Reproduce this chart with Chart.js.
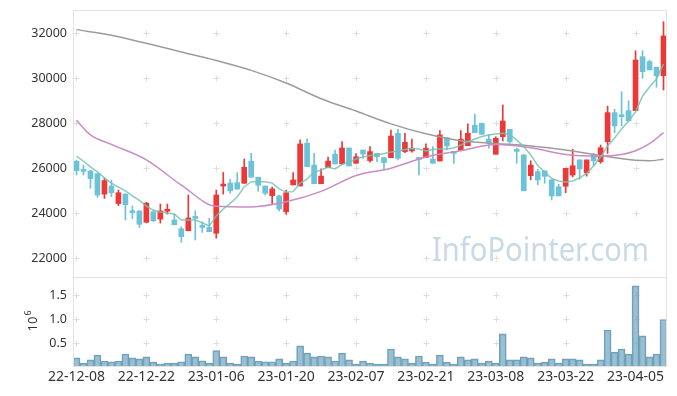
<!DOCTYPE html>
<html>
<head>
<meta charset="utf-8">
<script src="https://cdn.jsdelivr.net/npm/chart.js@4.4.0/dist/chart.umd.min.js"></script>
<style>
  html, body { margin: 0; padding: 0; background: #fff; }
</style>
</head>
<body>
<canvas id="stockChart" width="677" height="396"></canvas>
<script>
// trading days shown on the chart
const dates = [
  '22-12-08','22-12-09','22-12-12','22-12-13','22-12-14','22-12-15','22-12-16','22-12-19','22-12-20','22-12-21',
  '22-12-22','22-12-23','22-12-26','22-12-27','22-12-28','22-12-29','23-01-02','23-01-03','23-01-04','23-01-05',
  '23-01-06','23-01-09','23-01-10','23-01-11','23-01-12','23-01-13','23-01-16','23-01-17','23-01-18','23-01-19',
  '23-01-20','23-01-25','23-01-26','23-01-27','23-01-30','23-01-31','23-02-01','23-02-02','23-02-03','23-02-06',
  '23-02-07','23-02-08','23-02-09','23-02-10','23-02-13','23-02-14','23-02-15','23-02-16','23-02-17','23-02-20',
  '23-02-21','23-02-22','23-02-23','23-02-24','23-02-27','23-02-28','23-03-02','23-03-03','23-03-06','23-03-07',
  '23-03-08','23-03-09','23-03-10','23-03-13','23-03-14','23-03-15','23-03-16','23-03-17','23-03-20','23-03-21',
  '23-03-22','23-03-23','23-03-24','23-03-27','23-03-28','23-03-29','23-03-30','23-03-31','23-04-03','23-04-04',
  '23-04-05','23-04-06','23-04-07','23-04-10','23-04-11'
];

const opens = [
  26300,25900,25870,25750,24840,25200,24420,24840,24100,24090,
  23590,24060,23730,24080,23690,23300,23210,23790,23420,23360,
  23100,25200,25330,25350,25320,26300,25590,25200,24770,24760,
  24060,25250,25200,27100,26130,25300,26010,26620,26180,26890,
  26210,26800,26330,26650,26460,26460,27540,26730,26760,26470,
  26460,26400,26310,27350,26730,26770,26990,27900,27990,27280,
  26610,27390,27720,26800,26580,25660,25840,25870,25470,25170,
  25190,25690,26360,25780,26580,26280,27170,28460,28330,28550,
  28550,30950,30730,30480,30100
];
const highs = [
  26350,26130,25900,25770,25550,25460,25020,24860,24310,24100,
  24480,24100,24400,24400,23950,23390,24800,24100,23610,23770,
  25020,25800,25500,25800,26400,26650,25590,25200,25150,24800,
  25020,25800,27250,27300,26650,25960,26480,26800,27170,26890,
  26640,26800,26950,26650,26460,27690,27720,27540,27280,26470,
  27070,26950,27660,27350,26730,27660,27960,28390,27990,27470,
  27390,28800,27720,26880,26600,26320,25940,25870,25470,25280,
  25990,26830,26360,26360,26650,27020,28750,28610,29390,28990,
  31210,31210,30800,30480,32500
];
const lows = [
  25690,25690,25100,24700,24650,24730,24330,23690,23750,23360,
  23560,23620,23550,23950,23480,22700,23210,22800,23140,23170,
  22880,24840,24880,25060,25320,25590,24970,24800,24400,24090,
  23950,25250,25200,26060,25300,25300,26010,26180,26180,26090,
  26210,26430,26260,26280,25910,26460,26360,26680,26700,25690,
  26460,26210,26310,26800,26200,26770,26990,27570,27500,26880,
  26610,27200,27100,26210,24990,25470,25250,25320,24580,24760,
  24900,25600,25500,25640,26090,26210,26650,27570,27870,28100,
  28550,29990,30360,29590,29470
];
const closes = [
  25880,25850,25530,24800,25440,24900,24900,24370,24010,23500,
  24440,23660,24090,24170,23480,22950,23780,23760,23360,23170,
  24800,25250,24990,25060,26030,25590,25230,24880,25070,24180,
  24900,25470,27070,26060,25300,25640,26310,26180,26890,26090,
  26500,26620,26730,26500,26240,27420,26430,27140,26880,26380,
  26880,26210,27470,26980,26650,27280,27540,27570,27500,27100,
  27320,28090,27170,26740,24990,26130,25470,25630,24760,24760,
  25990,26100,25960,26360,26320,26900,28460,27870,28280,28100,
  30800,30280,30360,30100,31870
];
const volumes = [
  190000,80000,150000,250000,125000,110000,125000,270000,190000,170000,
  210000,100000,60000,80000,80000,110000,270000,210000,130000,80000,
  340000,210000,80000,60000,230000,210000,125000,110000,110000,170000,
  80000,125000,440000,290000,210000,230000,210000,125000,290000,150000,
  60000,125000,80000,60000,60000,375000,210000,170000,80000,230000,
  100000,60000,250000,100000,60000,210000,150000,170000,80000,125000,
  80000,690000,150000,150000,210000,190000,80000,100000,170000,80000,
  170000,170000,150000,60000,60000,150000,770000,310000,375000,270000,
  1690000,650000,210000,270000,990000
];

// moving averages
const ma5 = [
  26530,26300,26050,25830,25560,25330,25150,24980,24760,24560,
  24310,24130,24040,24000,23960,23690,23690,23690,23560,23420,
  23870,24180,24430,24710,25160,25390,25390,25390,25330,25070,
  24930,24950,25330,25510,25820,25910,26040,25960,26160,26270,
  26400,26490,26560,26580,26640,26710,26760,26820,26870,26840,
  26760,26820,26840,26840,26890,27020,27170,27290,27400,27470,
  27510,27540,27490,27240,26950,26580,26110,25820,25530,25420,
  25380,25420,25560,25760,26090,26490,26980,27330,27730,28090,
  28490,29200,29600,29960,30620
];
const ma20At = [0, 2, 5, 10, 15, 20, 25, 30, 35, 40, 45, 50, 55, 60, 65, 70, 75, 78, 80, 82, 84];
const ma20 = [28120,27470,27050,26360,25240,24300,24270,24500,24960,25670,25990,26490,26770,27040,26900,26600,26530,26600,26770,27080,27570];
const ma60At = [0, 5, 10, 15, 20, 25, 30, 35, 40, 45, 50, 55, 60, 65, 70, 75, 80, 82, 84];
const ma60 = [32150,31900,31540,31160,30780,30340,29780,29080,28530,27960,27520,27210,27090,26980,26800,26550,26340,26320,26390];

const priceTicks = [22000, 24000, 26000, 28000, 30000, 32000];
const volumeTicks = [500000, 1000000, 1500000];

const UP = '#ee3737';
const DOWN = '#6cc3d9';
const candleColors = closes.map((c, i) => c >= opens[i] ? UP : DOWN);
const bodies = opens.map((o, i) => [o, closes[i]]);
const wicks = lows.map((l, i) => [l, highs[i]]);
const sparse = (at, vals) => at.map((i, k) => ({ x: dates[i], y: vals[k] }));

// grid crosses, watermark, frame and the 10^6 label
const decor = {
  id: 'decor',
  beforeDatasetsDraw(chart) {
    const { ctx, scales } = chart;
    ctx.save();
    ctx.font = '33px "Noto Sans"';
    ctx.fillStyle = 'rgba(190,212,224,0.85)';
    ctx.textBaseline = 'alphabetic';
    const txt = 'InfoPointer.com';
    const w = ctx.measureText(txt).width;
    ctx.translate(432, 261);
    ctx.scale(217 / w, 1);
    ctx.fillText(txt, 0, 0);
    ctx.restore();

    ctx.save();
    ctx.strokeStyle = '#dedede';
    ctx.lineWidth = 1;
    const xs = dates.map((d, i) => i).filter(i => i % 10 === 0).map(i => scales.x.getPixelForValue(i));
    const ys = priceTicks.map(v => scales.y.getPixelForValue(v))
      .concat(volumeTicks.map(v => scales.yv.getPixelForValue(v)));
    ctx.beginPath();
    xs.forEach(x => ys.forEach(y => {
      const px = Math.round(x) + 0.5, py = Math.round(y) + 0.5;
      ctx.moveTo(px - 3, py); ctx.lineTo(px + 3, py);
      ctx.moveTo(px, py - 3); ctx.lineTo(px, py + 3);
    }));
    ctx.stroke();
    ctx.restore();
  },
  afterDraw(chart) {
    const { ctx, chartArea: a, scales } = chart;
    ctx.save();
    ctx.strokeStyle = '#e2e2e2';
    ctx.lineWidth = 1;
    ctx.strokeRect(Math.round(a.left) + 0.5, Math.round(a.top) + 0.5, Math.round(a.width) - 1, Math.round(a.height) - 1);
    const yb = Math.round(scales.y.bottom) + 0.5;
    ctx.beginPath();
    ctx.moveTo(a.left, yb); ctx.lineTo(a.right, yb);
    ctx.stroke();

    ctx.fillStyle = '#333';
    ctx.translate(37, 321);
    ctx.rotate(-Math.PI / 2);
    ctx.textBaseline = 'alphabetic';
    ctx.textAlign = 'left';
    ctx.font = '13px "Noto Sans"';
    const w10 = ctx.measureText('10').width;
    ctx.fillText('10', -w10 / 2 - 3, 0);
    ctx.font = '9px "Noto Sans"';
    ctx.fillText('6', w10 / 2 - 2, -6);
    ctx.restore();
  }
};

const tickFont = { family: 'Noto Sans', size: 12.5 };
const fitLeft = axis => { axis.width = 73; axis.paddingTop = 0; axis.paddingBottom = 0; };

new Chart(document.getElementById('stockChart'), {
  type: 'bar',
  data: {
    labels: dates,
    datasets: [
      { type: 'line', data: ma5, yAxisID: 'y', borderColor: 'rgba(115,195,178,0.85)', borderWidth: 1.5, pointRadius: 0, order: 0 },
      { type: 'line', data: sparse(ma20At, ma20), yAxisID: 'y', borderColor: '#c98cc5', borderWidth: 1.5, pointRadius: 0, cubicInterpolationMode: 'monotone', order: 0 },
      { type: 'line', data: sparse(ma60At, ma60), yAxisID: 'y', borderColor: '#9c9c9c', borderWidth: 1.5, pointRadius: 0, cubicInterpolationMode: 'monotone', order: 0 },
      { data: bodies, yAxisID: 'y', backgroundColor: candleColors, barThickness: 5, minBarLength: 2, grouped: false, order: 1 },
      { data: wicks, yAxisID: 'y', backgroundColor: candleColors, barThickness: 1, grouped: false, order: 2 },
      { data: volumes, yAxisID: 'yv', backgroundColor: 'rgba(120,170,195,0.75)', borderColor: '#6f9fb8', borderWidth: 1,
        barPercentage: 1, categoryPercentage: 1, grouped: false, order: 3 }
    ]
  },
  options: {
    responsive: false,
    devicePixelRatio: 1,
    animation: false,
    layout: { padding: { top: 10, right: 10, left: 0, bottom: 0 } },
    plugins: { legend: { display: false }, tooltip: { enabled: false } },
    scales: {
      x: {
        grid: { display: false, drawTicks: false },
        border: { display: false },
        afterFit: axis => { axis.height = 29; },
        ticks: {
          autoSkip: false, maxRotation: 0, padding: 2, color: '#333',
          font: { family: 'Noto Sans', size: 14 },
          callback: (v, i) => i % 10 === 0 ? dates[i] : ''
        }
      },
      yv: {
        position: 'left', stack: 'panes', stackWeight: 90,
        min: 0, max: 1875000,
        grid: { display: false, drawTicks: false },
        border: { display: false },
        afterFit: fitLeft,
        afterBuildTicks: axis => { axis.ticks = volumeTicks.map(v => ({ value: v })); },
        ticks: { padding: 6, color: '#333', font: tickFont, callback: v => (v / 1e6).toFixed(1) }
      },
      y: {
        position: 'left', stack: 'panes', stackWeight: 267,
        min: 21156, max: 33022,
        grid: { display: false, drawTicks: false },
        border: { display: false },
        afterFit: fitLeft,
        afterBuildTicks: axis => { axis.ticks = priceTicks.map(v => ({ value: v })); },
        ticks: { padding: 6, color: '#333', font: tickFont, callback: v => String(v) }
      }
    }
  },
  plugins: [decor]
});
</script>
</body>
</html>
